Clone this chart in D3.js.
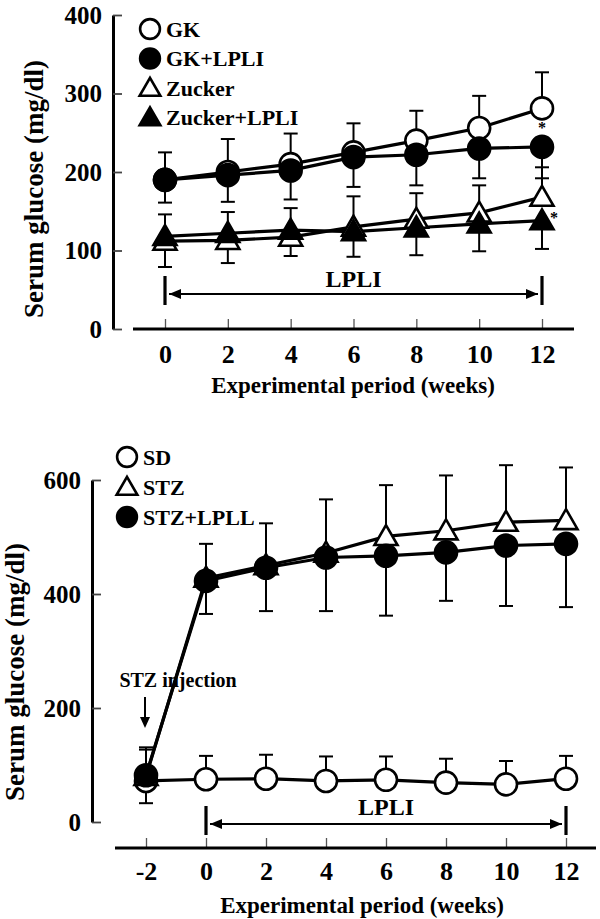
<!DOCTYPE html>
<html><head><meta charset="utf-8">
<script src="https://cdn.jsdelivr.net/npm/d3@7"></script>
<style>
html,body{margin:0;padding:0;background:#fff;}
svg{display:block;}
text{font-family:"Liberation Serif","Times New Roman",serif;font-weight:bold;fill:#000;}
</style></head>
<body>
<svg id="chart" width="600" height="919"></svg>
<script>
// ---------- DATA (top panel) ----------
const weeksTop = [0, 2, 4, 6, 8, 10, 12];
const gk        = [190, 200, 210, 225, 240, 256, 281];
const gkErr     = [35, 42, 39, 37, 38, 41, 46];
const gkLpli    = [190, 196, 202, 219, 222, 230, 232];
const gkLpliErr = [29, 34, 37, 38, 39, 38, 40];
const zucker        = [112, 113, 117, 130, 140, 148, 168];
const zuckerErr     = [34, 36, 37, 39, 33, 35, 38];
const zuckerLpli    = [118, 122, 126, 124, 129, 134, 138];
const zuckerLpliErr = [39, 38, 33, 32, 35, 35, 36];
const yTicksTop = [0, 100, 200, 300, 400];
const legendTop = ["GK", "GK+LPLI", "Zucker", "Zucker+LPLI"];

// ---------- DATA (bottom panel) ----------
const weeksBot = [-2, 0, 2, 4, 6, 8, 10, 12];
const sd        = [72, 75, 76, 72, 74, 69, 66, 76];
const sdErr     = [55, 41, 42, 43, 41, 42, 41, 40];
const stz       = [80, 428, 450, 472, 501, 511, 526, 529];
const stzErr    = [51, 60, 74, 94, 90, 97, 100, 93];
const stzLpli   = [82, 423, 446, 464, 467, 473, 485, 488];
const stzLpliErr= [49, 58, 76, 94, 105, 85, 106, 111];
const yTicksBot = [0, 200, 400, 600];
const legendBot = ["SD", "STZ", "STZ+LPLL"];

const svg = d3.select("#chart");
const R = 11;
const triArea = Math.sqrt(3) / 4 * 23 * 23;

function marker(g, type, x, y, filled, scale) {
  const k = scale || 1;
  if (type === "circle") {
    g.append("circle").attr("cx", x).attr("cy", y).attr("r", R * k)
      .attr("fill", filled ? "#000" : "#fff").attr("stroke", "#000").attr("stroke-width", 2.6);
  } else {
    g.append("path").attr("d", d3.symbol(d3.symbolTriangle, triArea * k * k)())
      .attr("transform", `translate(${x},${y + 2 * k})`)
      .attr("fill", filled ? "#000" : "#fff").attr("stroke", "#000").attr("stroke-width", 2.6)
      .attr("stroke-linejoin", "miter");
  }
}

function panel(cfg) {
  const g = svg.append("g");
  const x = cfg.x, y = cfg.y;
  // y axis (ticks pointing inward)
  const ya = g.append("g").attr("transform", `translate(${cfg.yAxisX},0)`)
    .call(d3.axisLeft(y).tickValues(cfg.yTicks).tickSizeInner(0).tickSizeOuter(0).tickPadding(11));
  ya.select(".domain").attr("stroke-width", 3);
  ya.selectAll(".tick line").attr("x1", 0).attr("x2", 9).attr("stroke-width", 1.8).attr("stroke", "#444");
  ya.selectAll("text").style("font-size", "25px");
  // x axis
  const xa = g.append("g").attr("transform", `translate(0,${cfg.xAxisY})`)
    .call(d3.axisBottom(x).tickValues(cfg.weeks).tickFormat(d => String(d))
      .tickSizeInner(-10).tickSizeOuter(0).tickPadding(cfg.xPad));
  xa.select(".domain").remove();
  xa.selectAll(".tick line").attr("stroke", "#555").attr("stroke-width", 1.3);
  xa.selectAll("text").style("font-size", "26px");
  g.append("line").attr("x1", cfg.xLine[0]).attr("x2", cfg.xLine[1])
    .attr("y1", cfg.xAxisY).attr("y2", cfg.xAxisY).attr("stroke", "#000").attr("stroke-width", 3);
  // axis titles
  g.append("text").attr("transform", `translate(${cfg.yTitle[0]},${cfg.yTitle[1]}) rotate(-90)`)
    .attr("text-anchor", "middle").attr("dominant-baseline", "central")
    .style("font-size", "27px").text("Serum glucose (mg/dl)");
  g.append("text").attr("x", cfg.xTitle[0]).attr("y", cfg.xTitle[1])
    .attr("text-anchor", "middle").attr("dominant-baseline", "central")
    .style("font-size", "23px").text("Experimental period (weeks)");
  // LPLI bracket
  const bx0 = x(0), bx1 = x(12);
  const lb = cfg.lpli;
  g.append("line").attr("x1", bx0).attr("x2", bx0).attr("y1", lb.top).attr("y2", lb.bot).attr("stroke", "#000").attr("stroke-width", 3.2);
  g.append("line").attr("x1", bx1).attr("x2", bx1).attr("y1", lb.top).attr("y2", lb.bot).attr("stroke", "#000").attr("stroke-width", 3.2);
  g.append("line").attr("x1", bx0 + 4).attr("x2", bx1 - 4).attr("y1", lb.arrow).attr("y2", lb.arrow).attr("stroke", "#000").attr("stroke-width", 2);
  g.append("path").attr("d", `M${bx0 + 4},${lb.arrow} l12,-5 l0,10 z`).attr("fill", "#000");
  g.append("path").attr("d", `M${bx1 - 4},${lb.arrow} l-12,-5 l0,10 z`).attr("fill", "#000");
  g.append("text").attr("x", (bx0 + bx1) / 2).attr("y", lb.text).attr("text-anchor", "middle")
    .style("font-size", "24px").text("LPLI");
  // lines
  const line = d3.line().x(d => x(d[0])).y(d => y(d[1]));
  cfg.series.forEach(s => {
    g.append("path").datum(cfg.weeks.map((w, i) => [w, s.values[i]]))
      .attr("d", line).attr("fill", "none").attr("stroke", "#000").attr("stroke-width", 3.2);
  });
  // error bars
  cfg.series.forEach(s => {
    cfg.weeks.forEach((w, i) => {
      const v = s.values[i], e = s.err[i];
      const yv = y(v), ye = y(v + s.dir * e), xx = x(w);
      g.append("line").attr("x1", xx).attr("x2", xx).attr("y1", yv).attr("y2", ye).attr("stroke", "#000").attr("stroke-width", 2);
      g.append("line").attr("x1", xx - 7).attr("x2", xx + 7).attr("y1", ye).attr("y2", ye).attr("stroke", "#000").attr("stroke-width", 2);
    });
  });
  // markers
  cfg.series.forEach(s => {
    cfg.weeks.forEach((w, i) => marker(g, s.type, x(w), y(s.values[i]), s.filled));
  });
  // legend
  cfg.legend.forEach((l, i) => {
    const ly = cfg.legendY[0] + i * cfg.legendY[1];
    marker(g, l.type, cfg.legendX, ly, l.filled, 0.9);
    g.append("text").attr("x", cfg.legendX + 16).attr("y", ly).attr("dominant-baseline", "central")
      .style("font-size", "22px").text(l.name);
  });
  return g;
}

// ---------- TOP PANEL ----------
const xTop = d3.scaleLinear().domain([0, 12]).range([165, 542]);
const yTop = d3.scaleLinear().domain([0, 400]).range([329, 15]);
const gTop = panel({
  x: xTop, y: yTop, yAxisX: 113, xAxisY: 329, xLine: [133, 574], xPad: 16, weeks: weeksTop, yTicks: yTicksTop,
  yTitle: [34, 189], xTitle: [353, 385],
  lpli: { top: 276, bot: 305, arrow: 294, text: 287 },
  series: [
    { values: gk, err: gkErr, dir: 1, type: "circle", filled: false },
    { values: zucker, err: zuckerErr, dir: 1, type: "tri", filled: false },
    { values: gkLpli, err: gkLpliErr, dir: -1, type: "circle", filled: true },
    { values: zuckerLpli, err: zuckerLpliErr, dir: -1, type: "tri", filled: true }
  ],
  legend: [
    { name: legendTop[0], type: "circle", filled: false },
    { name: legendTop[1], type: "circle", filled: true },
    { name: legendTop[2], type: "tri", filled: false },
    { name: legendTop[3], type: "tri", filled: true }
  ],
  legendX: 150, legendY: [29, 29.5]
});
gTop.append("text").attr("x", xTop(12)).attr("y", yTop(gkLpli[6]) - 14).attr("text-anchor", "middle").style("font-size", "16px").text("*");
gTop.append("text").attr("x", xTop(12) + 12).attr("y", yTop(zuckerLpli[6]) + 2).attr("text-anchor", "middle").style("font-size", "16px").text("*");

// ---------- BOTTOM PANEL ----------
const xBot = d3.scaleLinear().domain([-2, 12]).range([146, 566]);
const yBot = d3.scaleLinear().domain([0, 600]).range([822, 480]);
const gBot = panel({
  x: xBot, y: yBot, yAxisX: 92, xAxisY: 848, xLine: [115, 596], xPad: 14, weeks: weeksBot, yTicks: yTicksBot,
  yTitle: [15, 672], xTitle: [362, 905],
  lpli: { top: 806, bot: 835, arrow: 824, text: 815 },
  series: [
    { values: sd, err: sdErr, dir: 1, type: "circle", filled: false },
    { values: stz, err: stzErr, dir: 1, type: "tri", filled: false },
    { values: stzLpli, err: stzLpliErr, dir: -1, type: "circle", filled: true }
  ],
  legend: [
    { name: legendBot[0], type: "circle", filled: false },
    { name: legendBot[1], type: "tri", filled: false },
    { name: legendBot[2], type: "circle", filled: true }
  ],
  legendX: 127, legendY: [457, 30]
});
// STZ injection annotation
gBot.append("text").attr("x", 178).attr("y", 680).attr("text-anchor", "middle")
  .attr("dominant-baseline", "central").style("font-size", "20px").text("STZ injection");
gBot.append("line").attr("x1", xBot(-2) - 1).attr("x2", xBot(-2) - 1).attr("y1", 697).attr("y2", 720).attr("stroke", "#000").attr("stroke-width", 2);
gBot.append("path").attr("d", `M${xBot(-2) - 1},728 l-5,-11 l10,0 z`).attr("fill", "#000");
</script>
</body></html>
